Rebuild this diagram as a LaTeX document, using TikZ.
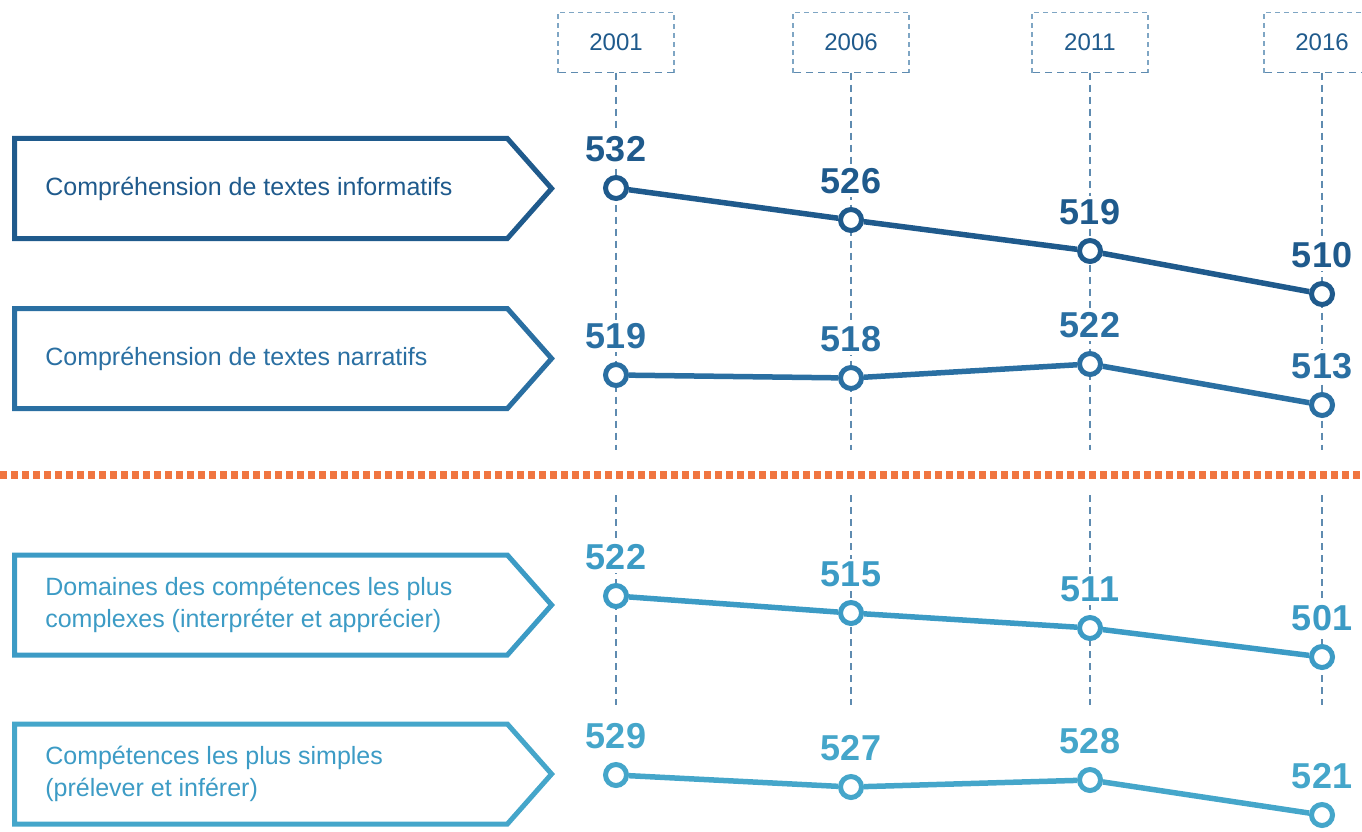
\documentclass[tikz,border=0pt]{standalone}
\usepackage{fontspec}
\setmainfont{Liberation Sans}
\usepackage{tikz}
\usetikzlibrary{positioning,shapes.symbols}

\definecolor{serieA}{HTML}{1F5A8C}
\definecolor{serieB}{HTML}{2A6FA2}
\definecolor{serieC}{HTML}{3C9BC5}
\definecolor{serieD}{HTML}{45A6CA}
\definecolor{guidecol}{HTML}{5E8BB0}
\definecolor{yearedge}{HTML}{7FA6C4}
\definecolor{splitcol}{HTML}{F07540}

\begin{document}
\begin{tikzpicture}[x=1pt,y=-1pt,
		yearbox/.style={minimum width=116pt,minimum height=60pt,text=serieA,font=\fontsize{24}{28}\selectfont},
		boxedge/.style={draw=yearedge,dash pattern=on 5pt off 4pt,line width=1.5pt},
		guide/.style={draw=guidecol,dash pattern=on 7pt off 5pt,line width=1.5pt},
		labelbox/.style={shape=signal,signal to=east,signal pointer angle=97,draw,line width=5pt,minimum width=537pt,minimum height=100pt},
		labeltext/.style={font=\fontsize{25}{32}\selectfont,align=left,inner sep=0pt},
		pt/.style={circle,draw,fill=white,line width=5pt,minimum size=21pt,inner sep=0pt},
		val/.style={fill=white,inner sep=3pt,font=\fontsize{36}{40}\selectfont\bfseries},
		serie/.style={line width=5.5pt}]
			\useasboundingbox (0,0) rectangle (1362,832);

			\foreach \yr/\x in {2001/616,2006/851,2011/1090,2016/1322} {
				\node[yearbox] (y\yr) at (\x,42.5) {\yr};
				\draw[boxedge] (y\yr.south west) -- (y\yr.north west) -- (y\yr.north east) -- (y\yr.south east);
				\draw[guide] (y\yr.south east) -- (y\yr.south west);
				\coordinate (g\yr) at (\x,450);
				\coordinate (h\yr) at (\x,495);
				\coordinate (e\yr) at (\x,705);
				\draw[guide] (y\yr.south) -- (g\yr) (h\yr) -- (e\yr);
			}

			\coordinate (splitL) at (0,475);
			\coordinate (splitR) at (1362,475);
			\draw[splitcol,line width=8pt,dash pattern=on 7pt off 4pt] (splitL) -- (splitR);

			\node[labelbox,draw=serieA] (infobox) at (261,188.5) {};
			\node[labeltext,text=serieA,right=33pt of infobox.west] {Compréhension de textes informatifs};
			\node[labelbox,draw=serieB] (narrbox) at (261,358.5) {};
			\node[labeltext,text=serieB,right=33pt of narrbox.west] {Compréhension de textes narratifs};
			\node[labelbox,draw=serieC] (cplxbox) at (261,605) {};
			\node[labeltext,text=serieC,right=33pt of cplxbox.west] {Domaines des compétences les plus\\complexes (interpréter et apprécier)};
			\node[labelbox,draw=serieD] (simpbox) at (261,774) {};
			\node[labeltext,text=serieC,right=33pt of simpbox.west] {Compétences les plus simples\\(prélever et inférer)};

			\foreach \i/\x/\y/\v in {1/616/188/532,2/851/220/526,3/1090/251/519,4/1322/294/510} {
				\node[pt,draw=serieA] (a\i) at (\x,\y) {};
				\node[val,text=serieA,above=10pt of a\i] {\v};
			}
			\foreach \i/\x/\y/\v in {1/616/375/519,2/851/378/518,3/1090/364/522,4/1322/405/513} {
				\node[pt,draw=serieB] (b\i) at (\x,\y) {};
				\node[val,text=serieB,above=10pt of b\i] {\v};
			}
			\foreach \i/\x/\y/\v in {1/616/596/522,2/851/613/515,3/1090/628/511,4/1322/657/501} {
				\node[pt,draw=serieC] (c\i) at (\x,\y) {};
				\node[val,text=serieC,above=10pt of c\i] {\v};
			}
			\foreach \i/\x/\y/\v in {1/616/775/529,2/851/787/527,3/1090/780/528,4/1322/815/521} {
				\node[pt,draw=serieD] (d\i) at (\x,\y) {};
				\node[val,text=serieD,above=10pt of d\i] {\v};
			}

			\draw[serie,serieA] (a1) -- (a2) -- (a3) -- (a4);
			\draw[serie,serieB] (b1) -- (b2) -- (b3) -- (b4);
			\draw[serie,serieC] (c1) -- (c2) -- (c3) -- (c4);
			\draw[serie,serieD] (d1) -- (d2) -- (d3) -- (d4);
		\end{tikzpicture}
\end{document}
